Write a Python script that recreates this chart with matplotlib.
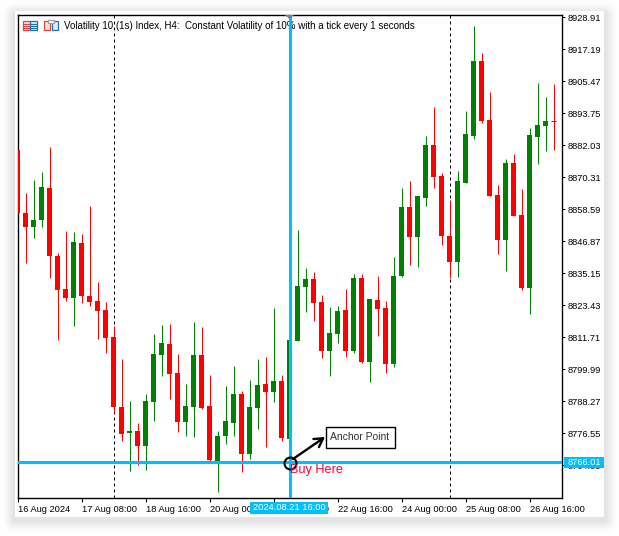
import matplotlib
matplotlib.use('Agg')
import matplotlib.pyplot as plt
from matplotlib.patches import Polygon, Rectangle
from matplotlib.transforms import Affine2D
import numpy as np

plt.rcParams['font.family'] = ['Liberation Sans', 'DejaVu Sans']

opens = [8880.31, 8857.24, 8852.11, 8854.67, 8866.39, 8841.49, 8829.40, 8826.11, 8846.25, 8826.84,
         8825.01, 8821.71, 8811.82, 8786.19, 8776.66, 8777.40, 8771.90, 8788.02, 8805.23, 8809.26,
         8798.64, 8780.69, 8786.19, 8805.23, 8786.55, 8766.41, 8775.56, 8780.33, 8790.95, 8768.97,
         8785.82, 8794.61, 8791.68, 8795.71, 8774.47, 8810.36, 8830.14, 8833.07, 8824.64, 8806.70,
         8812.92, 8821.71, 8806.70, 8833.43, 8802.67, 8825.37, 8822.44, 8801.93, 8834.16, 8859.44,
         8848.45, 8862.73, 8882.14, 8870.79, 8848.81, 8839.29, 8868.23, 8885.44, 8912.91, 8891.30,
         8863.83, 8847.35, 8875.55, 8856.51, 8829.77, 8885.07, 8889.10, 8890.93]
highs = [8880.31, 8864.56, 8869.32, 8872.25, 8881.41, 8842.59, 8850.65, 8850.28, 8849.55, 8859.80,
         8831.97, 8824.64, 8815.85, 8803.77, 8788.38, 8780.33, 8790.95, 8812.92, 8816.22, 8816.58,
         8805.60, 8794.61, 8817.32, 8815.49, 8797.91, 8777.40, 8793.88, 8801.20, 8792.05, 8796.07,
         8803.77, 8804.50, 8822.44, 8797.91, 8810.72, 8851.01, 8837.09, 8835.63, 8827.21, 8822.81,
         8823.18, 8829.40, 8834.90, 8834.90, 8825.74, 8834.16, 8825.01, 8841.12, 8866.39, 8868.96,
         8863.46, 8885.44, 8896.06, 8871.89, 8862.00, 8872.62, 8894.60, 8925.73, 8915.84, 8901.55,
         8867.49, 8877.02, 8878.85, 8866.03, 8888.37, 8904.85, 8899.72, 8904.48]
lows = [8857.35, 8838.93, 8848.08, 8852.11, 8833.43, 8810.72, 8825.01, 8815.85, 8824.28, 8823.18,
        8811.09, 8805.96, 8783.99, 8773.73, 8762.75, 8764.94, 8763.11, 8781.06, 8797.54, 8789.12,
        8777.03, 8775.56, 8775.20, 8785.45, 8766.41, 8755.05, 8772.63, 8775.56, 8762.38, 8767.14,
        8778.13, 8771.54, 8788.02, 8773.73, 8774.47, 8810.36, 8820.98, 8817.68, 8804.13, 8797.54,
        8809.63, 8804.50, 8805.96, 8802.30, 8795.34, 8812.19, 8798.64, 8800.84, 8833.80, 8838.19,
        8837.46, 8859.80, 8866.39, 8845.52, 8833.43, 8833.80, 8868.23, 8884.34, 8890.20, 8863.46,
        8842.22, 8836.00, 8856.14, 8829.04, 8820.25, 8875.18, 8879.95, 8880.31]
closes = [8857.35, 8852.11, 8854.67, 8866.76, 8841.49, 8829.04, 8826.11, 8846.62, 8826.84, 8824.64,
          8821.35, 8811.46, 8786.19, 8776.30, 8777.40, 8771.90, 8788.38, 8805.60, 8809.63, 8798.27,
          8780.69, 8786.55, 8805.23, 8785.82, 8766.77, 8775.56, 8781.06, 8790.95, 8768.97, 8786.19,
          8794.24, 8791.68, 8795.71, 8774.83, 8810.72, 8830.50, 8833.07, 8824.28, 8806.70, 8813.29,
          8821.35, 8806.70, 8833.43, 8802.67, 8825.74, 8822.08, 8801.93, 8834.16, 8859.44, 8848.45,
          8863.46, 8882.14, 8870.42, 8848.81, 8839.29, 8868.96, 8886.17, 8912.91, 8890.93, 8863.46,
          8847.35, 8875.55, 8856.14, 8829.77, 8885.81, 8889.47, 8890.93, 8890.93]

price_ticks = [8928.91, 8917.19, 8905.47, 8893.75, 8882.03, 8870.31, 8858.59, 8846.87, 8835.15,
               8823.43, 8811.71, 8799.99, 8788.27, 8776.55, 8764.83]
time_ticks = [0, 8, 16, 24, 32, 40, 48, 56, 64]
time_labels = ['16 Aug 2024', '17 Aug 08:00', '18 Aug 16:00', '20 Aug 00:00', '21 Aug 08:00',
               '22 Aug 16:00', '24 Aug 00:00', '25 Aug 08:00', '26 Aug 16:00']
period_lines = [12, 54]
anchor_bar = 34
anchor_price = 8766.01

title = 'Volatility 10 (1s) Index, H4:  Constant Volatility of 10% with a tick every 1 seconds'
blue = '#00BFFF'
up_color = '#008000'
down_color = '#FF0000'

W, H = 619, 536
fig = plt.figure(figsize=(W / 100, H / 100), dpi=100, facecolor='white')

# drop shadow round the white panel
yy, xx = np.mgrid[0:H, 0:W]
dx = np.maximum(np.maximum(15 - xx, xx - 604), 0)
dy = np.maximum(np.maximum(14 - yy, yy - 519), 0)
shade = 1 - 0.11 * np.exp(-(np.hypot(dx, dy) / 8.0) ** 2)
shade[(xx >= 15) & (xx < 604) & (yy >= 11) & (yy < 517)] = 1
fig.figimage(shade, cmap='gray', vmin=0, vmax=1, origin='upper', zorder=-5)

# pixel coords from top left, for the window furniture
px = Affine2D().scale(1, -1).translate(0, H)

ax = fig.add_axes([17.5 / W, 1 - 497.5 / H, 544 / W, 483 / H])
ax.set_xlim(0, 68)
ax.set_ylim(8753.02, 8929.94)
ax.set_facecolor('white')
for s in ax.spines.values():
    s.set_linewidth(1.0)
    s.set_color('black')

ax.yaxis.tick_right()
ax.set_yticks(price_ticks)
ax.set_yticklabels([f'{p:.2f}' for p in price_ticks], fontsize=6.7)
ax.tick_params(axis='y', length=2.5, width=0.75, pad=1.6)
ax.set_xticks(time_ticks)
ax.set_xticklabels(time_labels, fontsize=6.7, ha='left')
ax.tick_params(axis='x', length=3, width=0.75, pad=2.2)

for b in period_lines:
    ax.axvline(b, color='black', lw=0.72, ls=(0, (3, 3)), zorder=3.5)

x = np.arange(len(opens))
colors = [up_color if c > o else down_color for o, c in zip(opens, closes)]
ax.vlines(x, lows, highs, colors=colors, lw=0.75, zorder=4)
bottoms = np.minimum(opens, closes)
heights = np.abs(np.array(closes) - np.array(opens))
ax.bar(x, heights, width=0.64, bottom=bottoms, color=colors, linewidth=0, zorder=4)
# last bar has open == close, only a dash
ax.hlines(closes[-1], x[-1] - 0.32, x[-1] + 0.32, colors=colors[-1], lw=0.75, zorder=4)

ax.text(63.5, 26, title, transform=px, fontsize=7.0, color='black', va='center', ha='left', zorder=3)

ax.axvline(anchor_bar, color=blue, lw=2.2, zorder=5)
ax.axhline(anchor_price, color=blue, lw=2.2, zorder=5)
ax.add_patch(Polygon([(285, 15), (294, 15), (289.5, 19)], transform=px, fc='#77808A', ec='none', zorder=6))

ax.plot([anchor_bar], [anchor_price - 0.5], marker='o', ms=8.6, mfc='none', mec='black', mew=1.5, zorder=7)
ax.annotate('', xy=(325, 437), xytext=(293, 459), xycoords=px, textcoords=px, zorder=7,
            arrowprops=dict(arrowstyle='->,head_length=0.6,head_width=0.35', color='black', lw=1.7,
                            shrinkA=0, shrinkB=0))
ax.add_patch(Rectangle((325.5, 426.5), 69, 21, transform=px, fc='white', ec='black', lw=1.0, zorder=8, clip_on=False))
ax.text(360, 437.3, 'Anchor Point', transform=px, fontsize=7.5, color='#333333', ha='center', va='center', zorder=9)
ax.text(289.5, 470.5, 'Buy Here', transform=px, fontsize=9.2, color='#FF0030', ha='left', va='center', zorder=9)

# crosshair labels on the axes
ax.add_patch(Rectangle((250, 501.5), 78, 12.5, transform=px, fc=blue, ec='none', zorder=10, clip_on=False))
ax.text(289, 507.3, '2024.08.21 16:00', transform=px, fontsize=6.7, color='white', ha='center', va='center', zorder=11)
ax.add_patch(Rectangle((564, 457), 39.5, 11, transform=px, fc=blue, ec='none', zorder=10, clip_on=False))
ax.text(584, 462.8, f'{anchor_price:.2f}', transform=px, fontsize=6.7, color='white', ha='center', va='center', zorder=11)

# toolbar icons
icon_red = '#E8403A'
icon_blue = '#1F6FB5'
ax.add_patch(Rectangle((22.5, 20.5), 7, 9.5, transform=px, fc='#FFE5E2', ec=icon_red, lw=0.9, zorder=12))
ax.add_patch(Rectangle((29.5, 20.5), 7.5, 9.5, transform=px, fc='#DDEEFA', ec=icon_blue, lw=0.9, zorder=12))
for yl in [23.5, 25.5, 27.5]:
    ax.plot([24, 28.5], [yl, yl], transform=px, color=icon_red, lw=0.8, zorder=13)
    ax.plot([31, 36], [yl, yl], transform=px, color=icon_blue, lw=0.8, zorder=13)
ax.add_patch(Rectangle((43.5, 20.5), 6.5, 9.5, transform=px, fc='#FFE5E2', ec=icon_red, lw=0.9, zorder=12))
ax.add_patch(Rectangle((51.5, 20.5), 6.5, 9.5, transform=px, fc='#DDEEFA', ec=icon_blue, lw=0.9, zorder=12))
ax.add_patch(Rectangle((47.5, 19.5), 6, 3, transform=px, fc='white', ec='#A0A0A0', lw=0.9, zorder=13))

fig.savefig('out.png', dpi=100)
